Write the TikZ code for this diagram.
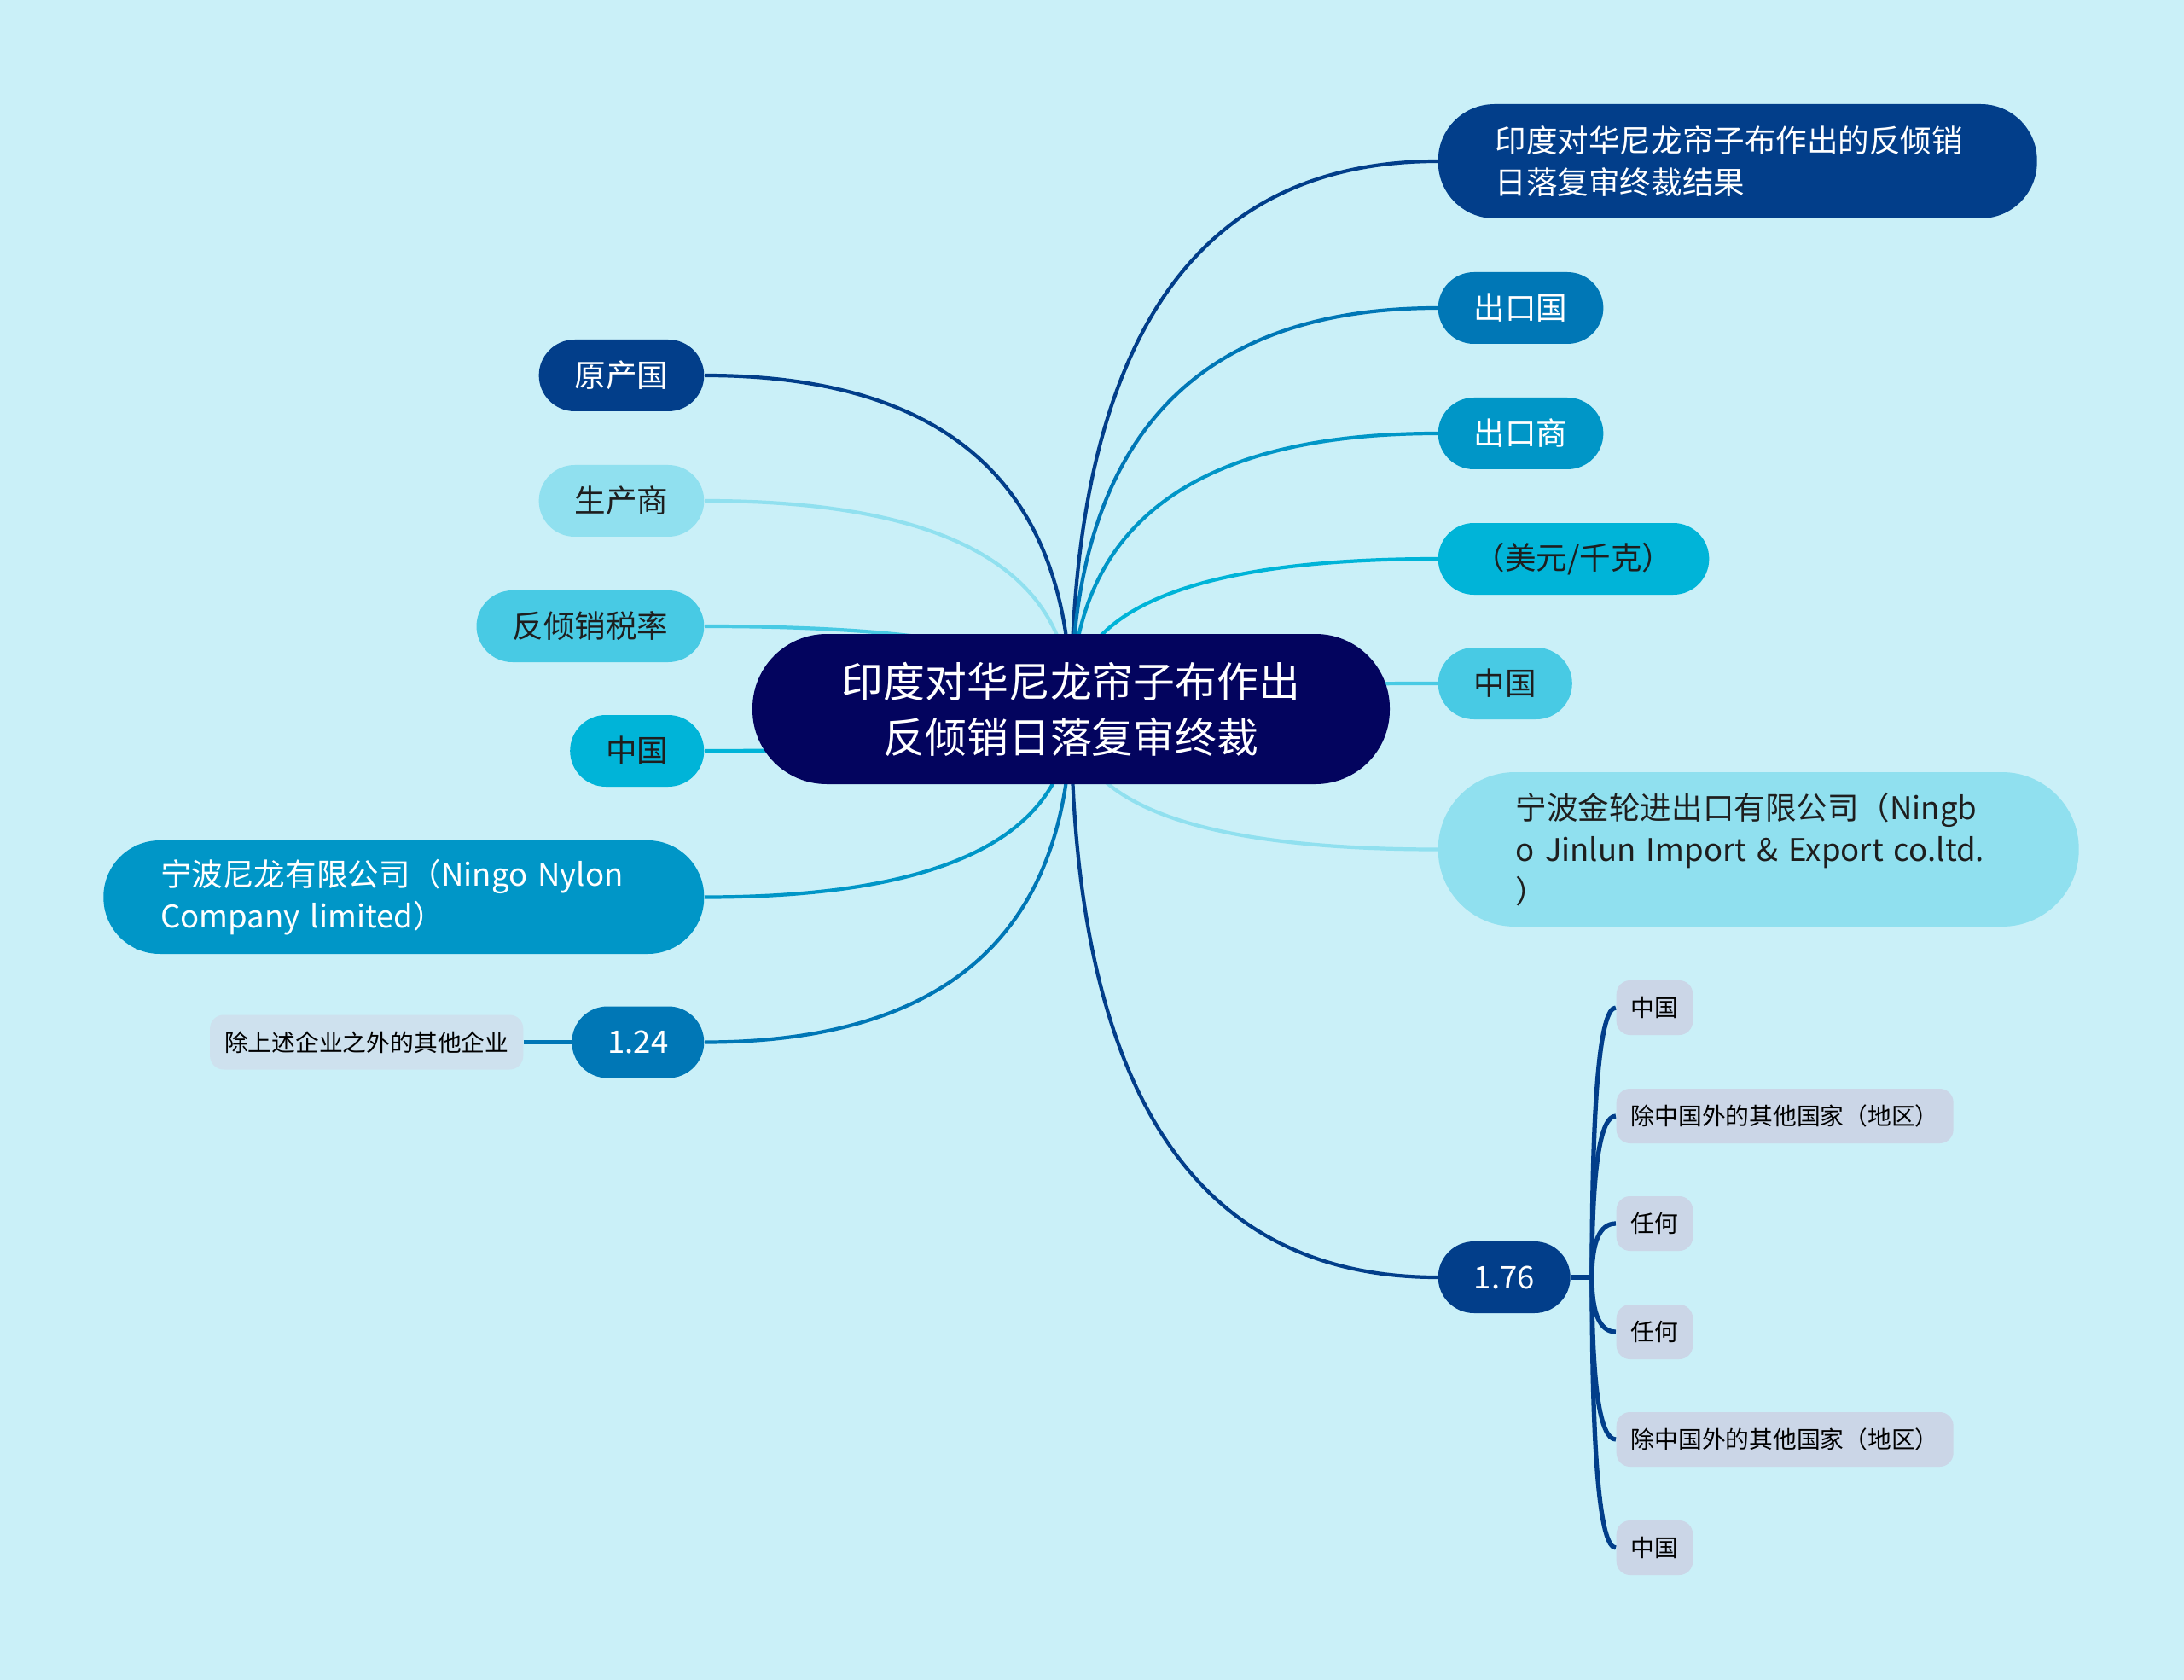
\documentclass[tikz,border=0pt]{standalone}
\usepackage{fontspec}
\setmainfont{Noto Sans CJK SC}
\usepackage{tikz}
\usetikzlibrary{calc,backgrounds}
\definecolor{bgcyan}{HTML}{CAF0F8}
\definecolor{rootnavy}{HTML}{03045E}
\definecolor{deepblue}{HTML}{023E8A}
\definecolor{seablue}{HTML}{0077B6}
\definecolor{midblue}{HTML}{0096C7}
\definecolor{brightcyan}{HTML}{00B4D8}
\definecolor{softcyan}{HTML}{48CAE4}
\definecolor{palecyan}{HTML}{90E0EF}
\definecolor{leafgray}{HTML}{CBD6E7}
\definecolor{leafpale}{HTML}{CEE1EE}
\definecolor{inkdark}{HTML}{1E1E1E}

\begin{document}
\begin{tikzpicture}[
 rootbox/.style={fill=rootnavy,text=white,rounded corners=8.7mm,minimum width=74.7mm,minimum height=17.6mm,align=center,font=\fontsize{13.9}{18.5}\selectfont},
 topic/.style={fill=#1,rounded corners=4.2mm,minimum height=8.4mm,inner xsep=4.2mm,inner ysep=0pt,font=\fontsize{10.4}{13.9}\selectfont},
 leaf/.style={fill=#1,text=black,rounded corners=1.6mm,minimum height=6.4mm,inner xsep=1.7mm,inner ysep=0pt,font=\fontsize{7.9}{10}\selectfont},
 edge/.style={line width=1.2pt},
 curvy/.style={to path={.. controls ($(\tikztostart)!0.6667!(\tikztostart|-\tikztotarget)$) and ($(\tikztotarget)!0.6667!(\tikztostart|-\tikztotarget)$) .. (\tikztotarget)}}]
\node[rootbox] (root) at (12.555,-8.31) {印度对华尼龙帘子布作出\\反倾销日落复审终裁};
\node[topic=deepblue,text=white,anchor=west,minimum height=13.4mm,rounded corners=6.6mm,text width=56.8mm,inner xsep=6.7mm,align=left] (result) at (16.85,-1.89) {印度对华尼龙帘子布作出的反倾销\\日落复审终裁结果};
\node[topic=seablue,text=white,anchor=west] (expc) at (16.85,-3.61) {出口国};
\node[topic=midblue,text=white,anchor=west] (expf) at (16.85,-5.08) {出口商};
\node[topic=brightcyan,text=inkdark,anchor=west] (unit) at (16.85,-6.55) {（美元/千克）};
\node[topic=softcyan,text=inkdark,anchor=west] (cnr) at (16.85,-8.01) {中国};
\node[topic=palecyan,text=inkdark,anchor=west,minimum height=18.1mm,rounded corners=9mm,text width=56.9mm,inner xsep=9.1mm,align=left] (jinlun) at (16.85,-9.955) {宁波金轮进出口有限公司（Ningb\\o Jinlun Import \& Export co.ltd.\\）};
\node[topic=deepblue,text=white,anchor=west] (r176) at (16.85,-14.97) {1.76};
\node[topic=deepblue,text=white,anchor=east] (origin) at (8.26,-4.40) {原产国};
\node[topic=palecyan,text=inkdark,anchor=east] (maker) at (8.26,-5.87) {生产商};
\node[topic=softcyan,text=inkdark,anchor=east] (rate) at (8.26,-7.34) {反倾销税率};
\node[topic=brightcyan,text=inkdark,anchor=east] (cnl) at (8.26,-8.80) {中国};
\node[topic=midblue,text=white,anchor=east,minimum height=13.3mm,rounded corners=6.6mm,text width=57mm,inner xsep=6.7mm,align=left] (nylon) at (8.26,-10.515) {宁波尼龙有限公司（Ningo Nylon\\Company limited）};
\node[topic=seablue,text=white,anchor=east] (r124) at (8.26,-12.215) {1.24};
\node[leaf=leafpale,anchor=east] (others) at (6.14,-12.215) {除上述企业之外的其他企业};
\coordinate (hub) at (18.66,-14.97);
\node[leaf=leafgray,anchor=west] (l1) at (18.94,-11.81) {中国};
\node[leaf=leafgray,anchor=west] (l2) at (18.94,-13.08) {除中国外的其他国家（地区）};
\node[leaf=leafgray,anchor=west] (l3) at (18.94,-14.34) {任何};
\node[leaf=leafgray,anchor=west] (l4) at (18.94,-15.61) {任何};
\node[leaf=leafgray,anchor=west] (l5) at (18.94,-16.87) {除中国外的其他国家（地区）};
\node[leaf=leafgray,anchor=west] (l6) at (18.94,-18.14) {中国};
\begin{scope}[on background layer]
\fill[bgcyan] (0,0) rectangle (25.6,-19.69);
\foreach \t/\c in {result/deepblue,expc/seablue,expf/midblue,unit/brightcyan,cnr/softcyan,jinlun/palecyan,r176/deepblue}
 \draw[edge,draw=\c] (root.center) to[curvy] (\t.west);
\foreach \t/\c in {origin/deepblue,maker/palecyan,rate/softcyan,cnl/brightcyan,nylon/midblue,r124/seablue}
 \draw[edge,draw=\c] (root.center) to[curvy] (\t.east);
\draw[edge,seablue] (r124.west) -- (others.east);
\draw[edge,deepblue,line width=1.5pt] (r176.east) -- (hub);
\foreach \i in {1,...,6} \draw[edge,deepblue,line width=1.5pt] (hub) to[curvy] (l\i.west);
\end{scope}
\end{tikzpicture}
\end{document}
